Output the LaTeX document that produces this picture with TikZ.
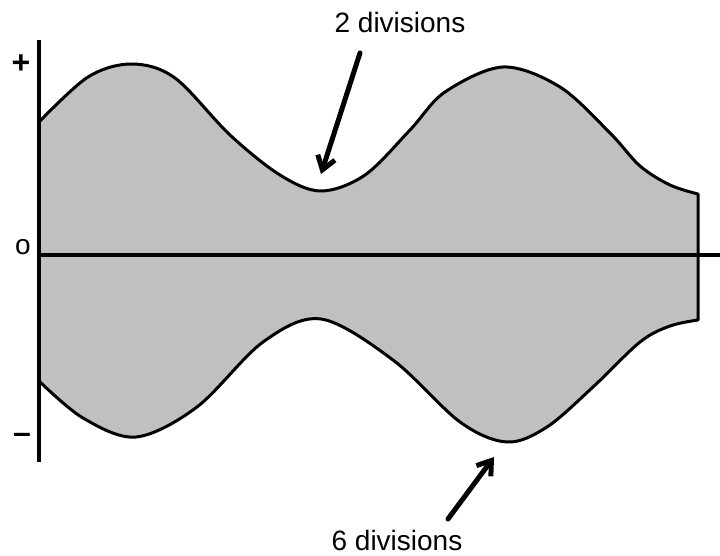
\documentclass[tikz,border=0pt]{standalone}
\usepackage{fontspec}
\setmainfont{Liberation Sans}
\usetikzlibrary{arrows.meta}
\definecolor{envgray}{RGB}{192,192,192}
\tikzset{
  envline/.style={line width=3pt, line join=round},
  axisline/.style={line width=3.4pt},
  pointer/.style={line width=5pt, line cap=round, -{Straight Barb[length=13pt,width=18pt,line width=5pt]}},
  lab/.style={font=\fontsize{28}{30}\selectfont, inner sep=0pt},
  sym/.style={font=\fontsize{32}{34}\selectfont\bfseries, inner sep=0pt}
}
\begin{document}
\begin{tikzpicture}[x=1pt,y=-1pt]
\useasboundingbox (0,0) rectangle (720,556);
% envelope
\filldraw[envline, fill=envgray]
  plot[smooth, tension=0.55] coordinates {(39,122) (88,77) (132,64) (175,78) (230,135) (280,175) (321,191) (365,175) (410,130) (445,92) (503,67) (560,87) (610,133) (640,166) (670,185) (698,194)}
  -- (698,320)
  -- plot[smooth, tension=0.55] coordinates {(698,320) (670,326) (640,342) (593,387) (547,427) (507,442) (460,422) (393,360) (321,319) (263,342) (197,407) (136,437) (83,418) (39,381)}
  -- cycle;
% axes
\coordinate (vtop) at (39,40);
\coordinate (vbot) at (39,462);
\coordinate (hleft) at (39,255);
\coordinate (hright) at (720,255);
\draw[axisline] (vtop) -- (vbot);
\draw[axisline] (hleft) -- (hright);
% axis symbols
\node[sym] (plus) at (21,64) {+};
\node[font=\fontsize{28}{30}\selectfont, inner sep=0pt] (zero) at (23,247) {o};
\node[sym] (minus) at (22,438) {\char"2013};
% labels
\node[lab, anchor=base] (two) at (400,33) {2 divisions};
\node[lab, anchor=base] (six) at (397,550) {6 divisions};
\coordinate (twotail) at (360,53);
\coordinate (twohead) at (321,174);
\coordinate (sixtail) at (448,519);
\coordinate (sixhead) at (494,457);
\draw[pointer] (twotail) -- (twohead);
\draw[pointer] (sixtail) -- (sixhead);
\end{tikzpicture}
\end{document}
